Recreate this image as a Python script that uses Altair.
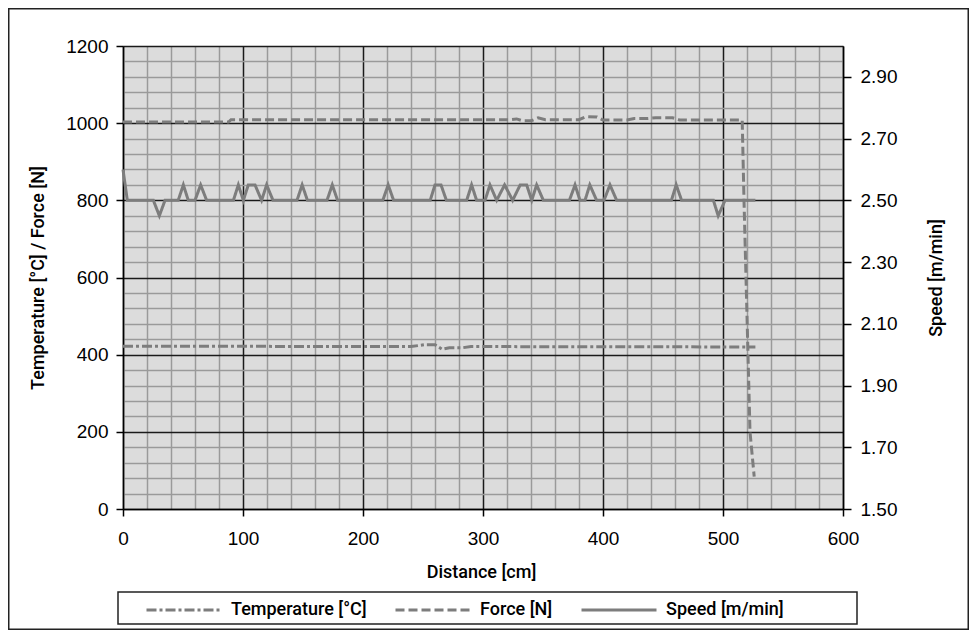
import altair as alt
import pandas as pd

# ---------------- data ----------------
series_names = ["Temperature [°C]", "Force [N]", "Speed [m/min]"]

temp_distance = [0, 240, 252, 260, 266, 272, 283, 290, 527]
temp_value = [422, 421, 426, 426, 414, 418, 418, 421, 420]

force_distance = [0, 88, 90, 322, 328, 333, 340, 346, 352, 380, 386, 395, 400,
                  420, 426, 437, 444, 458, 464, 516, 517.5, 522.5, 526]
force_value = [1003, 1003, 1009, 1009, 1011, 1006, 1006, 1014, 1009, 1009, 1017,
               1016, 1008, 1008, 1012, 1012, 1014, 1014, 1008, 1008, 800, 200, 84]

speed_distance = [0, 3.6,
                  25.3, 30.3, 35,
                  46, 50.3, 54.4,
                  60, 64.7, 69.7,
                  92, 96.1, 100.3, 104.4, 110, 115.5, 119.7, 125,
                  145, 149.3, 153.7,
                  170, 174.4, 178.8,
                  216.5, 221, 225.5,
                  256, 260, 265, 269.5,
                  286.4, 290.5, 294.7,
                  301.7, 305.8, 311.4, 318, 324.7, 331, 336.4, 340.6, 344.7, 350.3,
                  372, 376.7, 380.8, 385, 389, 394.7, 400.8, 405.8, 411.4,
                  457, 461, 465.5,
                  492, 496, 501.7,
                  527]
speed_value = [2.60, 2.50,
               2.50, 2.45, 2.50,
               2.50, 2.55, 2.50,
               2.50, 2.55, 2.50,
               2.50, 2.55, 2.50, 2.55, 2.55, 2.50, 2.55, 2.50,
               2.50, 2.55, 2.50,
               2.50, 2.55, 2.50,
               2.50, 2.55, 2.50,
               2.50, 2.55, 2.55, 2.50,
               2.50, 2.55, 2.50,
               2.50, 2.55, 2.50, 2.55, 2.50, 2.55, 2.55, 2.50, 2.55, 2.50,
               2.50, 2.55, 2.50, 2.50, 2.55, 2.50, 2.50, 2.55, 2.50,
               2.50, 2.55, 2.50,
               2.50, 2.45, 2.50,
               2.50]

x_ticks = list(range(0, 601, 20))
left_ticks = list(range(0, 1201, 40))
right_ticks = [1.5, 1.7, 1.9, 2.1, 2.3, 2.5, 2.7, 2.9]

# ---------------- tables ----------------
df_left = pd.DataFrame({
    "distance": temp_distance + force_distance,
    "value": temp_value + force_value,
    "series": [series_names[0]] * len(temp_distance) + [series_names[1]] * len(force_distance),
})
df_speed = pd.DataFrame({
    "distance": speed_distance,
    "speed": speed_value,
    "series": [series_names[2]] * len(speed_distance),
})
df_one = pd.DataFrame({"k": [0]})

NARROW = "Roboto, Liberation Sans, sans-serif"
SANS = "Liberation Sans, Arial, Helvetica, sans-serif"
LINE = "#7d7d7d"
MINOR = "#9a9a9a"
MAJOR = "#1a1a1a"

X = alt.X(
    "distance:Q",
    scale=alt.Scale(domain=[0, 600], nice=False, zero=False),
    axis=alt.Axis(
        values=x_ticks, format="d", labelFlush=False,
        labelExpr="datum.value % 100 === 0 ? datum.label : ''",
        grid=True,
        gridColor={"condition": {"test": "datum.value % 100 === 0", "value": MAJOR}, "value": MINOR},
        tickOpacity={"condition": {"test": "datum.value % 100 === 0", "value": 1}, "value": 0},
        tickSize=7, labelPadding=13,
        title="Distance [cm]", titleX=358, titleY=68,
        titleBaseline="alphabetic", titleAlign="center",
    ),
)

YL = alt.Y(
    "value:Q",
    scale=alt.Scale(domain=[0, 1200], nice=False, zero=False),
    axis=alt.Axis(
        orient="left", values=left_ticks, format="d", labelFlush=False,
        labelExpr="datum.value % 200 === 0 ? datum.label : ''",
        grid=True,
        gridColor={"condition": {"test": "datum.value % 200 === 0", "value": MAJOR}, "value": MINOR},
        tickOpacity={"condition": {"test": "datum.value % 200 === 0", "value": 1}, "value": 0},
        tickSize=7, labelPadding=8,
        title="Temperature [°C] / Force [N]", titleX=-80, titleY=231.5,
        titleAngle=270, titleBaseline="alphabetic", titleAlign="center",
    ),
)

YR = alt.Y(
    "speed:Q",
    scale=alt.Scale(domain=[1.5, 3.0], nice=False, zero=False),
    axis=alt.Axis(
        orient="right", values=right_ticks, format=".2f", grid=False, labelFlush=False,
        tickSize=8, labelPadding=9,
        title="Speed [m/min]", titleX=98, titleY=231.5,
        titleAngle=270, titleBaseline="alphabetic", titleAlign="center",
    ),
)

leg = alt.Legend(
    title=None, orient="none", legendX=22, legendY=525, direction="horizontal",
    symbolType="stroke", symbolSize=5625, symbolStrokeWidth=3,
    labelFont=NARROW, labelFontSize=18, labelFontWeight=500, labelColor="black",
    labelOffset=8, columnPadding=22, padding=0, labelLimit=400,
)
C = alt.Color("series:N", scale=alt.Scale(domain=series_names, range=[LINE, LINE, LINE]), legend=leg)
D = alt.StrokeDash("series:N", scale=alt.Scale(domain=series_names,
                   range=[[10, 3, 3, 3], [9, 4], [1, 0]]), legend=leg)

frame = alt.Chart(df_one).mark_rect(filled=False, stroke="#222222", strokeWidth=1.5).encode(
    x=alt.value(-114.25), x2=alt.value(845.25), y=alt.value(-37.25), y2=alt.value(583.25))
legend_box = alt.Chart(df_one).mark_rect(filled=False, stroke="#222222", strokeWidth=1.5).encode(
    x=alt.value(-5), x2=alt.value(734), y=alt.value(546), y2=alt.value(578))

left = alt.Chart(df_left).mark_line(strokeWidth=3).encode(x=X, y=YL, color=C, strokeDash=D)
speed = alt.Chart(df_speed).mark_line(strokeWidth=3).encode(x=X, y=YR, color=C, strokeDash=D)

chart = (
    alt.layer(frame, legend_box, left, speed)
    .resolve_scale(y="independent")
    .properties(
        width=720, height=463,
        autosize=alt.AutoSizeParams(type="none"),
        padding={"left": 115, "top": 38, "right": 126, "bottom": 121},
    )
    .configure_view(fill="#dcdcdc", stroke="transparent")
    .configure_axis(
        labelFont=SANS, labelFontSize=19, labelColor="black",
        titleFont=NARROW, titleFontSize=18, titleFontWeight=500, titleColor="black",
        domainColor="black", domainWidth=1.5, tickColor="black", tickWidth=1.5,
        gridWidth=1.5, gridOpacity=1,
    )
)

chart.save("out.html", embed_options={"renderer": "svg", "actions": False})
